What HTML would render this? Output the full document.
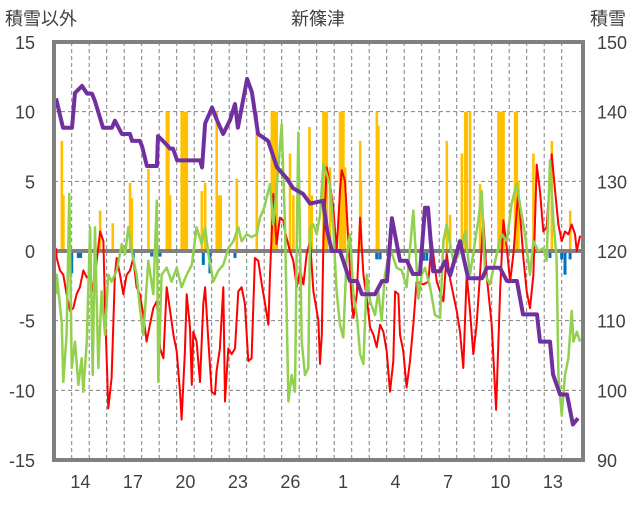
<!DOCTYPE html>
<html><head><meta charset="utf-8">
<style>
html,body{margin:0;padding:0;background:#fff;}
body{width:636px;height:501px;overflow:hidden;font-family:"Liberation Sans","Noto Sans CJK JP",sans-serif;}
svg text{font-family:"Liberation Sans","Noto Sans CJK JP",sans-serif;fill:#404040;}
</style></head>
<body>
<svg id="chart" width="636" height="501" viewBox="0 0 636 501" xmlns="http://www.w3.org/2000/svg">
<text x="5" y="25" font-size="18">積雪以外</text>
<text x="318" y="25" font-size="18" text-anchor="middle">新篠津</text>
<text x="590" y="25" font-size="18">積雪</text>
<g id="grid"></g>
<g id="bars"></g>
<g id="lines"></g>
<g id="axes"></g>
</svg>
<script>
const leftTicks=[15,10,5,0,-5,-10,-15];
const rightTicks=[150,140,130,120,110,100,90];
const dayLabels=["14","17","20","23","26","1","4","7","10","13"];
const dayLabelIdx=[0,3,6,9,12,15,18,21,24,27];
// red series
const redT=[-0.9,-0.86,-0.67,-0.48,-0.29,-0.1,0.09,0.28,0.47,0.66,0.86,1.05,1.24,1.43,1.62,1.81,1.9,2.09,2.28,2.47,2.57,2.76,2.95,3.14,3.33,3.52,3.71,3.9,4.09,4.28,4.47,4.66,4.86,5.05,5.24,5.43,5.62,5.81,6.0,6.19,6.28,6.47,6.57,6.76,6.86,6.95,7.14,7.33,7.52,7.62,7.81,8.0,8.19,8.28,8.47,8.66,8.76,8.95,9.14,9.33,9.52,9.71,9.9,10.09,10.28,10.47,10.66,10.86,11.05,11.24,11.33,11.52,11.71,11.9,12.09,12.19,12.47,12.66,12.86,13.05,13.24,13.43,13.62,13.81,13.91,14.1,14.19,14.29,14.38,14.57,14.76,14.95,15.14,15.33,15.43,15.62,15.81,16.0,16.1,16.29,16.48,16.67,16.86,17.05,17.24,17.43,17.62,17.81,18.0,18.19,18.38,18.48,18.67,18.76,18.95,19.14,19.33,19.52,19.71,20.1,20.38,20.57,20.86,21.24,21.43,21.62,22.0,22.19,22.38,22.57,22.76,22.95,23.14,23.33,23.52,23.71,24.0,24.25,24.48,24.67,24.86,25.05,25.24,25.52,25.81,26.0,26.19,26.38,26.57,26.76,26.95,27.14,27.43,27.62,27.81,28.0,28.19,28.38,28.57,28.76,28.86,29.05];
const redV=[0.2,-0.5,-1.4,-1.7,-3.1,-4.3,-4.1,-3.1,-2.6,-1.4,-1.9,-1.7,-2.9,-0.7,1.4,0.7,-4.1,-11.3,-9.1,-1.7,-0.5,-1.7,-3.1,-1.7,-1.4,-0.5,-2.6,-3.1,-4.6,-6.5,-5.3,-4.1,-3.6,-7.0,-7.7,-2.6,-4.3,-6.0,-7.2,-10.1,-12.1,-7.2,-3.1,-5.5,-9.6,-5.8,-6.5,-9.4,-3.8,-2.6,-6.5,-10.1,-10.3,-8.6,-7.0,-2.6,-10.8,-7.0,-7.4,-7.0,-2.9,-2.6,-3.8,-7.9,-7.7,-0.5,-0.7,-2.4,-3.8,-5.3,-1.7,4.1,0.5,2.4,2.2,1.4,0,-0.7,-2.6,-1.4,-2.4,-0.2,0.7,-2.9,-3.6,-5.0,-8.1,-6.0,0.7,6.0,4.8,3.1,0,4.3,5.8,5.0,0.7,-3.6,-4.8,-3.1,2.4,-1.7,-3.4,-5.5,-6.0,-6.9,-5.3,-5.8,-7.2,-10.1,-7.9,-2.9,-3.1,-6.0,-7.2,-9.8,-7.9,-5.3,-2.2,-2.4,-2.2,0.7,-2.2,-3.6,-0.2,-2.0,-4.3,-5.8,-8.4,-1.7,-4.3,-7.4,-5.3,-1.7,2.2,-1.7,-5.3,-11.4,-2.9,2.2,0.2,-2.2,-0.2,4.3,-0.5,-2.9,-4.1,-1.7,6.2,4.3,1.4,1.7,6.95,4.3,1.9,0.7,1.4,1.2,1.9,1.2,0,1.1];
// green series
const greenT=[-0.9,-0.86,-0.57,-0.48,-0.29,-0.14,0.0,0.19,0.38,0.57,0.66,0.86,1.05,1.2,1.33,1.52,1.71,1.9,2.09,2.28,2.57,2.86,3.05,3.24,3.43,3.71,3.9,4.09,4.38,4.66,4.86,4.95,5.14,5.43,5.71,6.0,6.28,6.57,6.86,7.14,7.43,7.62,7.81,8.09,8.38,8.66,8.95,9.24,9.52,9.71,10.0,10.28,10.57,10.76,11.0,11.33,11.52,11.81,12.0,12.19,12.38,12.57,12.76,12.86,12.95,13.14,13.33,13.52,13.62,13.81,14.0,14.19,14.38,14.57,14.76,14.95,15.14,15.33,15.52,15.71,15.9,16.1,16.29,16.48,16.67,16.86,17.05,17.33,17.52,17.71,17.9,18.19,18.57,18.86,19.14,19.52,19.81,20.0,20.19,20.48,20.76,21.05,21.24,21.43,21.62,21.81,22.0,22.29,22.48,22.76,23.05,23.24,23.43,23.62,23.9,24.29,24.57,24.86,25.14,25.43,25.71,25.9,26.19,26.38,26.67,26.95,27.14,27.33,27.52,27.71,27.81,28.0,28.19,28.38,28.57,28.67,28.86,29.05];
const greenV=[-3.1,-1.7,-5.1,-9.4,-6.0,4.1,-8.4,-6.5,-9.6,-7.7,-10.1,-6.5,1.7,-8.9,1.7,-8.4,-2.9,-6.0,-1.7,-2.2,-1.4,0.5,-0.2,1.7,0,-1.7,-4.1,-6.0,-0.7,-3.1,3.6,-9.4,-1.7,-1.2,-2.2,-1.2,-2.6,-1.7,-1.0,1.7,0.5,1.7,-0.2,-2.2,-1.4,-1.0,0.2,0.7,1.7,0.7,1.2,1.0,1.2,2.4,3.1,4.8,1.9,6.0,9.1,1.9,-10.8,-8.9,-10.1,0.7,8.5,-6.5,-8.9,-8.4,1.7,1.9,1.2,2.6,6.2,5.5,4.8,1.7,-2.9,-5.3,-6.2,-0.5,1.2,-3.1,-4.6,-7.4,-8.1,-1.7,-3.6,-4.6,-2.9,-5.0,-1.7,0.2,-1.2,-1.4,-2.6,2.9,-3.4,-1.7,-1.2,-2.6,-4.6,-4.8,0.7,1.9,0.5,-0.7,-0.5,0.2,1.4,-1.7,0.7,2.2,4.3,-1.7,-2.4,-0.2,1.2,0.7,3.4,4.8,2.6,1.2,-1.7,0.7,0,0.2,-0.7,6.5,2.2,-0.5,-8.9,-11.8,-8.9,-7.7,-4.3,-6.5,-5.8,-6.5];
// purple: snow depth (right axis)
const depthT=[-0.9,-0.5,0.02,0.19,0.59,0.88,1.16,1.33,1.79,2.3,2.47,2.87,3.33,3.45,3.9,4.02,4.3,4.87,4.93,5.33,5.62,5.79,6.02,7.33,7.45,7.62,8.02,8.3,8.65,9.05,9.33,9.5,10.02,10.3,10.65,11.22,11.73,12.3,12.65,13.22,13.62,14.36,14.6,14.87,15.33,15.9,16.3,16.59,17.33,17.73,18.02,18.3,18.76,19.16,19.5,19.9,20.19,20.36,20.65,21.05,21.33,21.62,22.19,22.65,23.45,23.73,24.47,24.87,25.44,25.79,26.59,26.76,27.33,27.5,27.9,28.3,28.64,28.93];
const depthV=[141.9,137.7,137.7,142.7,143.7,142.6,142.6,141.5,137.7,137.7,138.7,136.8,136.8,135.8,135.8,135,132.2,132.2,136.5,135.5,134.7,134.7,133,133,132,138.3,140.6,138.8,136.8,138.8,141.1,137.7,144.7,142.8,136.8,135.8,132,130.4,129,128.2,126.8,127.2,122.9,120,120,115.7,115.7,113.8,113.8,115.7,115.7,124.7,118.6,118.6,116.7,116.7,126.2,126.2,117.1,117.1,118.5,116.5,121.4,116.1,116.1,117.6,117.6,115.7,115.7,110.9,110.9,107,107,102.3,99.4,99.4,95.1,96];
// orange: snowfall bars
const snowT=[-0.57,-0.48,1.62,2.34,3.33,3.43,4.38,5.43,5.52,5.62,6.28,6.38,6.47,6.57,7.43,7.62,8.28,8.38,8.51,9.43,10.57,11.43,11.52,11.62,11.71,12.47,12.66,13.58,13.71,14.38,14.48,14.57,14.76,15.33,15.43,15.52,15.62,16.48,16.52,17.43,17.52,21.43,21.62,22.29,22.48,22.57,22.76,23.33,24.38,24.48,24.57,24.67,25.33,25.43,25.52,26.38,27.43,28.48];
const snowV=[7.9,4.0,2.9,2.0,4.9,3.8,5.9,10,10,4,10,10,10,10,4.3,4.9,10,4,4,5.2,10,10,10,10,10,7,4,8.9,4,10,10,10,6,10,10,10,6,7.9,5,10,9,7.9,2.6,7,10,10,10,4.8,10,10,10,10,10,10,5,7,7.9,2.9];
// blue: negative bars
const negT=[0.0,0.38,0.51,3.52,4.57,5.05,7.52,7.9,9.33,17.43,17.62,20.1,20.29,23.62,27.33,28.0,28.19,28.48];
const negV=[-1.6,-0.5,-0.5,-0.5,-0.4,-0.4,-1.0,-1.6,-0.5,-0.6,-0.6,-0.7,-0.7,-0.9,-0.5,-0.6,-1.7,-0.6];

const NS="http://www.w3.org/2000/svg";
const X0=71.7, DX=17.5, YTOP=42, YBOT=460, PL=54, PR=583;
const xs=t=>X0+DX*t;
const yL=v=>YTOP+(15-v)*(YBOT-YTOP)/30;
const yR=v=>YTOP+(150-v)*(YBOT-YTOP)/60;
function mk(tag,attrs,parent){const e=document.createElementNS(NS,tag);for(const k in attrs)e.setAttribute(k,attrs[k]);parent.appendChild(e);return e;}
const grid=document.getElementById('grid'),bars=document.getElementById('bars'),lines=document.getElementById('lines'),axes=document.getElementById('axes');

for(let k=0;k<29;k++){
  const l=mk('line',{x1:xs(k),x2:xs(k),y1:YTOP,y2:YBOT,stroke:'#808080','stroke-width':1,'stroke-dasharray':'4,3'},grid);
  
  
}
leftTicks.forEach(v=>{
  if(v!==0&&v!==15&&v!==-15){
    const l=mk('line',{x1:PL,x2:PR,y1:yL(v),y2:yL(v),stroke:'#808080','stroke-width':1,'stroke-dasharray':'4,3'},grid);
    
    
  }
  const t=mk('text',{x:35,y:yL(v)+7,'font-size':18,'text-anchor':'end'},axes);
  t.textContent=v;
  
  
});
rightTicks.forEach(v=>{
  const t=mk('text',{x:597,y:yR(v)+7,'font-size':18},axes);
  t.textContent=v;
  
  
});
dayLabels.forEach((s,i)=>{
  const t=mk('text',{x:xs(dayLabelIdx[i]+0.5),y:488,'font-size':18,'text-anchor':'middle'},axes);
  t.textContent=s;
  
  
});
snowT.forEach((t,i)=>{
  const y=yL(snowV[i]);
  const r=mk('rect',{x:xs(t)-1.2,y:y,width:2.6,height:yL(0)-y,fill:'#ffc000'},bars);
  
  
});
negT.forEach((t,i)=>{
  const r=mk('rect',{x:xs(t)-1.5,y:yL(0),width:3,height:yL(negV[i])-yL(0),fill:'#0070c0'},bars);
  
  
});
const zl=mk('line',{x1:PL,x2:PR,y1:yL(0),y2:yL(0),stroke:'#808080','stroke-width':4},bars);


function path(T,V,fy,color,w,name){
  const d=T.map((t,i)=>(i?'L':'M')+xs(t).toFixed(1)+','+fy(V[i]).toFixed(1)).join('');
  const p=mk('path',{d:d,fill:'none',stroke:color,'stroke-width':w,'stroke-linejoin':'round'},lines);
  
  
}
path(redT,redV,yL,'#ff0000',2,'red-line');
path(greenT,greenV,yL,'#92d050',2.5,'green-line');
path(depthT,depthV,yR,'#7030a0',4,'snow-depth-line');
const fr=mk('rect',{x:PL,y:YTOP,width:PR-PL,height:YBOT-YTOP,fill:'none',stroke:'#808080','stroke-width':4},axes);


</script>
</body></html>
